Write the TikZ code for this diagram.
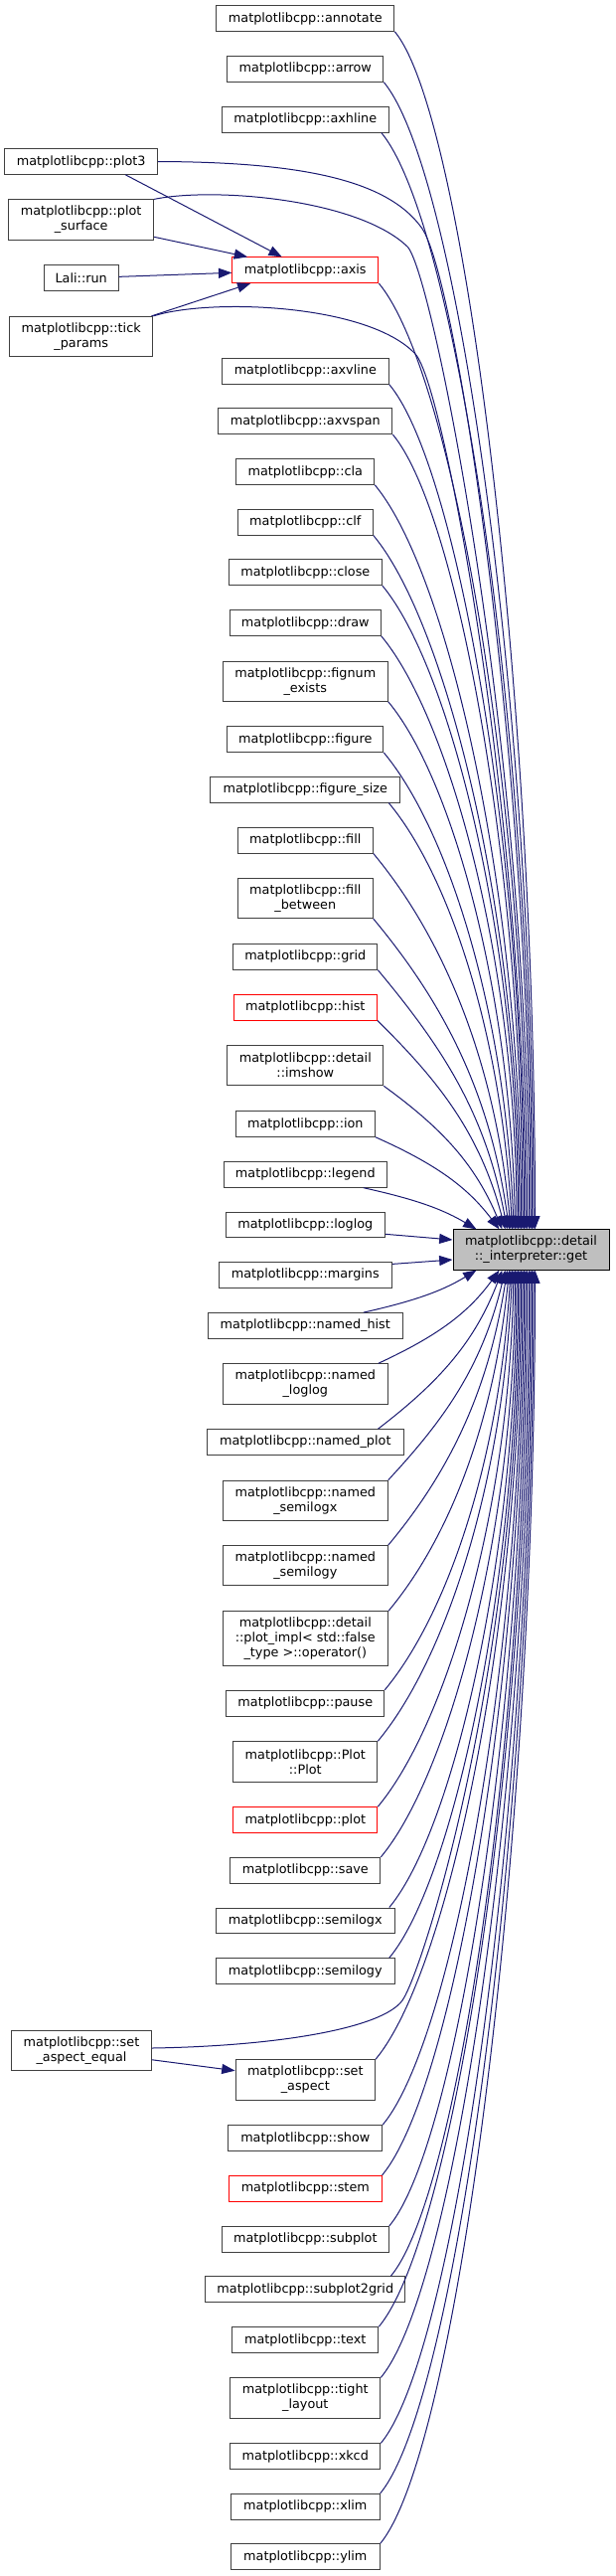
\documentclass[tikz,border=0pt]{standalone}
\usepackage{fontspec}
\setmainfont{DejaVu Sans}
\usetikzlibrary{arrows.meta,calc}
\definecolor{edgeblue}{HTML}{191970}
\definecolor{boxgrey}{HTML}{404040}
\definecolor{getfill}{HTML}{BFBFBF}
\definecolor{hotred}{HTML}{FF0000}
\newcommand\fnfont{\fontsize{9.6pt}{11.25pt}\selectfont}
\tikzset{
  fn/.style={draw=boxgrey,line width=0.75pt,fill=white,inner sep=0pt,align=center,
    font=\fnfont,text=black,minimum height=19.2pt},
  redfn/.style={fn,draw=hotred},
  getfn/.style={fn,draw=black,fill=getfill},
  two/.style={minimum height=30.2pt},
  three/.style={minimum height=40.95pt},
  bw/.style={minimum width={#1*0.75pt}},
  callarrow/.style={draw=edgeblue,line width=0.75pt,-{Triangle[length=10pt,width=7.5pt]}}
}
\begin{document}
\begin{tikzpicture}[x=0.75pt,y=-0.75pt]
\useasboundingbox (0,0) rectangle (619,2591);
% nodes
\node[fn,bw=179] (annotate) at (307.3,18.5) {matplotlibcpp::annotate};
\node[fn,bw=157] (arrow) at (307.3,69.4) {matplotlibcpp::arrow};
\node[fn,bw=168] (axhline) at (307.3,120.2) {matplotlibcpp::axhline};
\node[fn,bw=154] (plotthree) at (81.7,162.5) {matplotlibcpp::plot3};
\node[fn,two,bw=146] (plotsurface) at (81.7,221) {matplotlibcpp::plot\\\_surface};
\node[redfn,bw=147] (axis) at (307.3,271.7) {matplotlibcpp::axis};
\node[fn,bw=75] (lalirun) at (81.7,279.7) {Lali::run};
\node[fn,two,bw=144.5] (tickparams) at (81.7,338.5) {matplotlibcpp::tick\\\_params};
\node[fn,bw=168] (axvline) at (307.3,373.4) {matplotlibcpp::axvline};
\node[fn,bw=175] (axvspan) at (307.3,423.7) {matplotlibcpp::axvspan};
\node[fn,bw=139] (cla) at (307.3,474.5) {matplotlibcpp::cla};
\node[fn,bw=136] (clf) at (307.3,525.2) {matplotlibcpp::clf};
\node[fn,bw=154] (closenode) at (307.3,575.7) {matplotlibcpp::close};
\node[fn,bw=152] (drawnode) at (307.3,626.5) {matplotlibcpp::draw};
\node[fn,two,bw=166] (fignum) at (307.3,685.2) {matplotlibcpp::fignum\\\_exists};
\node[fn,bw=157] (figure) at (307.3,743.7) {matplotlibcpp::figure};
\node[fn,bw=191] (figuresize) at (307.3,794.3) {matplotlibcpp::figure\_size};
\node[fn,bw=136] (fillnode) at (307.3,845.2) {matplotlibcpp::fill};
\node[fn,two,bw=136] (fillbetween) at (307.3,903.5) {matplotlibcpp::fill\\\_between};
\node[fn,bw=145] (grid) at (307.3,962.3) {matplotlibcpp::grid};
\node[redfn,bw=144] (hist) at (307.3,1013.2) {matplotlibcpp::hist};
\node[fn,two,bw=157] (imshow) at (307.3,1071.7) {matplotlibcpp::detail\\::imshow};
\node[fn,bw=140.5] (ion) at (307.3,1130.5) {matplotlibcpp::ion};
\node[fn,bw=164] (legend) at (307.3,1181.4) {matplotlibcpp::legend};
\node[fn,bw=160] (loglog) at (307.3,1232) {matplotlibcpp::loglog};
\node[getfn,two,bw=157] (get) at (534.5,1257) {matplotlibcpp::detail\\::\_interpreter::get};
\node[fn,bw=174] (margins) at (307.3,1282.4) {matplotlibcpp::margins};
\node[fn,bw=196] (namedhist) at (307.3,1333.4) {matplotlibcpp::named\_hist};
\node[fn,two,bw=166] (namedloglog) at (307.3,1391.9) {matplotlibcpp::named\\\_loglog};
\node[fn,bw=197.4] (namedplot) at (307.3,1450.5) {matplotlibcpp::named\_plot};
\node[fn,two,bw=166] (namedsemilogx) at (307.3,1509.2) {matplotlibcpp::named\\\_semilogx};
\node[fn,two,bw=166] (namedsemilogy) at (307.3,1574.7) {matplotlibcpp::named\\\_semilogy};
\node[fn,three,bw=166.6] (plotimpl) at (307.3,1648) {matplotlibcpp::detail\\::plot\_impl< std::false\\\_type >::operator()};
\node[fn,bw=158.7] (pause) at (307.3,1713.2) {matplotlibcpp::pause};
\node[fn,two,bw=145] (plotplot) at (307.3,1771.9) {matplotlibcpp::Plot\\::Plot};
\node[redfn,bw=145] (plotnode) at (307.3,1830.5) {matplotlibcpp::plot};
\node[fn,bw=151] (save) at (307.3,1881.2) {matplotlibcpp::save};
\node[fn,bw=180] (semilogx) at (307.3,1931.8) {matplotlibcpp::semilogx};
\node[fn,bw=180] (semilogy) at (307.3,1982.5) {matplotlibcpp::semilogy};
\node[fn,two,bw=140.6] (setaspectequal) at (82,2062.5) {matplotlibcpp::set\\\_aspect\_equal};
\node[fn,two,bw=140.5] (setaspect) at (307.3,2091.9) {matplotlibcpp::set\\\_aspect};
\node[fn,bw=154.7] (show) at (307.3,2150.5) {matplotlibcpp::show};
\node[redfn,bw=153.5] (stem) at (307.3,2201.2) {matplotlibcpp::stem};
\node[fn,bw=168] (subplot) at (307.3,2252.2) {matplotlibcpp::subplot};
\node[fn,bw=201.3] (subplottwogrid) at (307.3,2302.5) {matplotlibcpp::subplot2grid};
\node[fn,bw=147] (textnode) at (307.3,2353.5) {matplotlibcpp::text};
\node[fn,two,bw=151] (tightlayout) at (307.3,2412) {matplotlibcpp::tight\\\_layout};
\node[fn,bw=151] (xkcd) at (307.3,2470.7) {matplotlibcpp::xkcd};
\node[fn,bw=149.7] (xlim) at (307.3,2521.2) {matplotlibcpp::xlim};
\node[fn,bw=149.7] (ylim) at (307.3,2571.7) {matplotlibcpp::ylim};
% edges from callers above get
\foreach \s/\ex/\sx in {annotate/83/0, arrow/81.5/0, axhline/80/-8, axis/75/0,
  axvline/72/0, axvspan/70.5/0, cla/69/0, clf/67.5/0, closenode/66/0, drawnode/64.5/0,
  fignum/63/0, figure/61.5/0, figuresize/60/-12, fillnode/58.5/0, fillbetween/57/0,
  grid/55/0, hist/53/0, imshow/50/0, ion/47/0, legend/24/-24}
{
  \draw[callarrow] let \p1=($(\s.south east)+(\sx,0)$), \p2=($(get.north west)+(\ex,0)$),
      \n1={\x2-\x1}, \n2={\y1-\y2} in
    (\p1) .. controls ({\x1+0.5*\n1},{\y1-min(0.6*\n1,0.3*\n2)})
      and ({\x2-0.3*\n1*(1-min(\n2,450pt)/450pt)},{\y2+0.45*\n2}) .. (\p2);
}
% edges from callers below get
\foreach \s/\ex/\sx in {namedhist/24/-40, namedloglog/47/-10, namedplot/50/-26,
  namedsemilogx/53/0, namedsemilogy/55/0, plotimpl/57/0, pause/58.5/0, plotplot/60/0,
  plotnode/61.5/0, save/63/0, semilogx/64.5/-6, semilogy/66/-6, setaspect/69/0,
  show/70.5/0, stem/72/0, subplot/73.5/0, subplottwogrid/75/-15, textnode/77/0,
  tightlayout/78.5/0, xkcd/80/0, xlim/81.5/0, ylim/83/0}
{
  \draw[callarrow] let \p1=($(\s.north east)+(\sx,0)$), \p2=($(get.south west)+(\ex,0)$),
      \n1={\x2-\x1}, \n2={\y2-\y1} in
    (\p1) .. controls ({\x1+0.5*\n1},{\y1+min(0.6*\n1,0.3*\n2)})
      and ({\x2-0.3*\n1*(1-min(\n2,450pt)/450pt)},{\y2-0.45*\n2}) .. (\p2);
}
% straight edges near get
\draw[callarrow] ($(loglog.south east)+(0,-4)$) -- ($(get.west)+(0,-10)$);
\draw[callarrow] ($(margins.north east)+(0,2.3)$) -- ($(get.west)+(0,10)$);
% left column callers
\draw[callarrow] (plotthree.east) .. controls (300,163) and (390,180) .. (425,230)
  .. controls (460,282) and ($(get.north west)+(78.5,-463)$) .. ($(get.north west)+(78.5,0)$);
\draw[callarrow] (plotsurface.north east) .. controls (215,188) and (360,200) .. (410,248)
  .. controls (435,272) and ($(get.north west)+(77,-480)$) .. ($(get.north west)+(77,0)$);
\draw[callarrow] (tickparams.north east) .. controls (210,300) and (370,305) .. (418,356)
  .. controls (448,388) and ($(get.north west)+(73.5,-400)$) .. ($(get.north west)+(73.5,0)$);
\draw[callarrow] (setaspectequal.east) ++(0,-2.5) .. controls (280,2058) and (385,2040) .. (405,2012)
  .. controls (425,1984) and ($(get.south west)+(67.5,400)$) .. ($(get.south west)+(67.5,0)$);
\draw[callarrow] ($(plotthree.south)+(44.6,0)$) -- ($(axis.north west)+(50.5,0)$);
\draw[callarrow] ($(plotsurface.south east)+(0,-3.3)$) -- ($(axis.north west)+(15.8,0)$);
\draw[callarrow] ($(tickparams.north east)+(-2,0)$) -- ($(axis.south west)+(19,0)$);
\draw[callarrow] (lalirun) -- (axis);
\draw[callarrow] (setaspectequal) -- (setaspect);
\end{tikzpicture}
\end{document}
